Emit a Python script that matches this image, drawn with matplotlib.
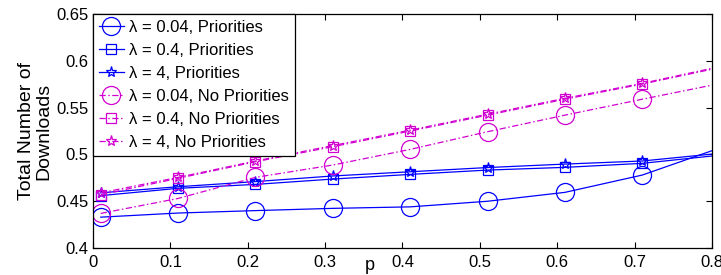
import numpy as np
import matplotlib
matplotlib.use("Agg")
import matplotlib.pyplot as plt

plt.rcParams['font.family'] = ['Liberation Sans', 'DejaVu Sans']
plt.rcParams['font.size'] = 12

# p values (last one sits just past the axis limit, only its line segment shows)
p = [0.01, 0.11, 0.21, 0.31, 0.41, 0.51, 0.61, 0.71, 0.81]

# Priorities
prio_004 = [0.433, 0.4374, 0.440, 0.4424, 0.444, 0.450, 0.4595, 0.478, 0.5069]
prio_04 = [0.456, 0.4638, 0.468, 0.4737, 0.4787, 0.4833, 0.4862, 0.4905, 0.4992]
prio_4 = [0.459, 0.4655, 0.471, 0.477, 0.4815, 0.486, 0.4897, 0.493, 0.5012]

# No priorities
noprio_004 = [0.437, 0.453, 0.4755, 0.4887, 0.5054, 0.5243, 0.542, 0.559, 0.5757]
noprio_04 = [0.457, 0.4745, 0.4922, 0.5083, 0.525, 0.542, 0.559, 0.5752, 0.5928]
noprio_4 = [0.459, 0.4755, 0.493, 0.5095, 0.526, 0.543, 0.560, 0.576, 0.5938]

labels = ['λ = 0.04, Priorities', 'λ = 0.4, Priorities', 'λ = 4, Priorities',
          'λ = 0.04, No Priorities', 'λ = 0.4, No Priorities', 'λ = 4, No Priorities']

blue = (0, 0, 1)
mag = (0.82, 0, 0.82)
dashdot = (0, (5, 2, 1.2, 2))

fig = plt.figure(figsize=(7.21, 2.75), dpi=100)
ax = fig.add_axes([0.129, 0.098, 0.8585, 0.851])

series = [
    (prio_004, blue, '-', 'o', 13),
    (prio_04, blue, '-', 's', 7.5),
    (prio_4, blue, '-', '*', 8),
    (noprio_004, mag, dashdot, 'o', 13),
    (noprio_04, mag, dashdot, 's', 7.5),
    (noprio_4, mag, dashdot, '*', 8),
]
mark_idx = list(range(len(p) - 1))
for (vals, col, ls, mk, ms), lab in zip(series, labels):
    ax.plot(p, vals, color=col, linestyle=ls, linewidth=0.9, marker=mk,
            markersize=ms, markerfacecolor='none', markeredgecolor=col,
            markeredgewidth=0.9, markevery=mark_idx, label=lab)

ax.set_xlim(0, 0.8)
ax.set_ylim(0.4, 0.65)
ax.set_xticks(np.arange(0, 0.81, 0.1))
ax.set_xticklabels(['0', '0.1', '0.2', '0.3', '0.4', '0.5', '0.6', '0.7', '0.8'])
ax.set_yticks([0.4, 0.45, 0.5, 0.55, 0.6, 0.65])
ax.set_yticklabels(['0.4', '0.45', '0.5', '0.55', '0.6', '0.65'])
ax.tick_params(direction='in', top=True, right=True, length=4, width=0.8,
               labelsize=12)
ax.tick_params(axis='x', pad=5)
ax.tick_params(axis='y', pad=3)
for s in ax.spines.values():
    s.set_linewidth(0.9)

ax.set_xlabel('p', fontsize=13)
ax.xaxis.set_label_coords(0.447, -0.04)
ax.set_ylabel('Total Number of\nDownloads', fontsize=14, linespacing=1.0)
ax.yaxis.set_label_coords(-0.066, 0.5)

leg = ax.legend(loc='upper left', borderaxespad=0, fancybox=False,
                edgecolor='black', framealpha=1, fontsize=12,
                handlelength=1.5, handletextpad=0.3, labelspacing=0.48,
                borderpad=0.35)
leg.get_frame().set_linewidth(0.9)

fig.savefig('out.png', dpi=100)
